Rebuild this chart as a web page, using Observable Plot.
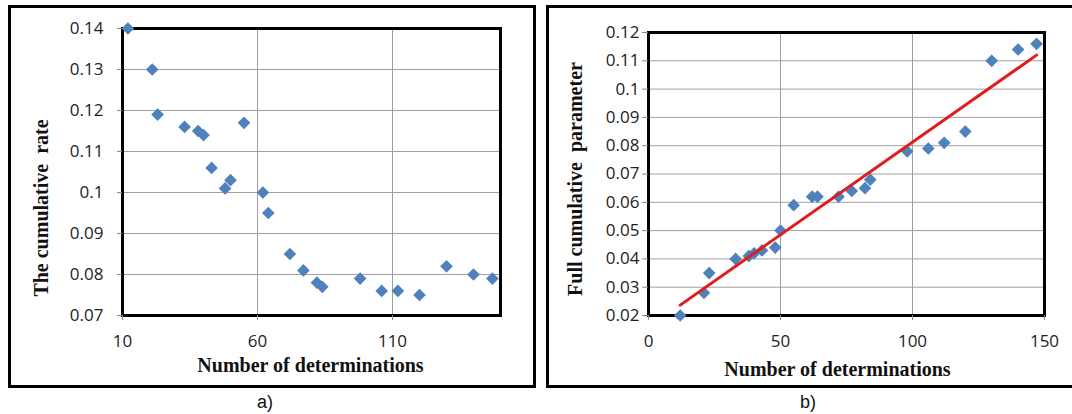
<!DOCTYPE html>
<html>
<head>
<meta charset="utf-8">
<script src="https://cdn.jsdelivr.net/npm/d3@7"></script>
<script src="https://cdn.jsdelivr.net/npm/@observablehq/plot@0.6"></script>
<style>
  html, body { margin: 0; padding: 0; background: #fff; }
  #page { position: relative; width: 1072px; height: 414px; overflow: hidden; background: #fff; }
  .box { position: absolute; box-sizing: border-box; border: 3px solid #000; }
  .plotwrap { position: absolute; top: 0; }
  .cap { position: absolute; font-family: "Liberation Sans", Arial, sans-serif; font-size: 18px; color: #111; transform: translate(-50%, -50%); }
</style>
</head>
<body>
<div id="page">
  <div class="box" style="left:8px; top:5px; width:528px; height:383px;"></div>
  <div class="box" style="left:546px; top:5px; width:540px; height:383px;"></div>
  <div class="plotwrap" id="pa" style="left:0px;"></div>
  <div class="plotwrap" id="pb" style="left:540px;"></div>
  <div class="cap" style="left:265px; top:402px;">a)</div>
  <div class="cap" style="left:808px; top:402px;">b)</div>
</div>
<script>
// Number of determinations (shared by both panels)
const determinations = [12, 21, 23, 33, 38, 40, 43, 48, 50, 55, 62, 64, 72, 77, 82, 84, 98, 106, 112, 120, 130, 140, 147];
// Panel a: the cumulative rate
const cumulativeRate = [0.140, 0.130, 0.119, 0.116, 0.115, 0.114, 0.106, 0.101, 0.103, 0.117, 0.100, 0.095, 0.085, 0.081, 0.078, 0.077, 0.079, 0.076, 0.076, 0.075, 0.082, 0.080, 0.079];
// Panel b: full cumulative parameter
const fullParameter = [0.020, 0.028, 0.035, 0.040, 0.041, 0.042, 0.043, 0.044, 0.050, 0.059, 0.062, 0.062, 0.062, 0.064, 0.065, 0.068, 0.078, 0.079, 0.081, 0.085, 0.110, 0.114, 0.116];

// Tick labels
const xTicksA = [10, 60, 110];
const yTicksA = [0.07, 0.08, 0.09, 0.10, 0.11, 0.12, 0.13, 0.14];
const xTicksB = [0, 50, 100, 150];
const yTicksB = [0.02, 0.03, 0.04, 0.05, 0.06, 0.07, 0.08, 0.09, 0.10, 0.11, 0.12];

const dataA = determinations.map((x, i) => ({x, y: cumulativeRate[i]}));
const dataB = determinations.map((x, i) => ({x, y: fullParameter[i]}));

const fmt = d => String(+d.toFixed(2));
const tickFont = {fontFamily: "'Open Sans', sans-serif", fontSize: "17px", color: "#222", background: "transparent", overflow: "visible"};
const titleFont = {fontFamily: "'Liberation Serif', 'Times New Roman', serif", fontSize: 20, fontWeight: "bold", fill: "#111"};
const gridStyle = {stroke: "#a0a0a0", strokeOpacity: 1, strokeWidth: 1};
const diamond = {symbol: "diamond2", r: 5.7, fill: "#4f81bd", stroke: "none"};

const plotA = Plot.plot({
  width: 540, height: 414,
  marginLeft: 122, marginRight: 40, marginTop: 28, marginBottom: 99,
  style: tickFont,
  x: {domain: [10, 150]},
  y: {domain: [0.07, 0.14]},
  marks: [
    Plot.gridX(xTicksA, gridStyle),
    Plot.gridY(yTicksA, gridStyle),
    Plot.frame({stroke: "#000", strokeWidth: 3}),
    Plot.axisX(xTicksA, {tickSize: 5, tickPadding: 14, stroke: "#888", label: null, tickFormat: d => String(d)}),
    Plot.axisY(yTicksA, {tickSize: 5, tickPadding: 14, stroke: "#888", label: null, tickFormat: fmt}),
    Plot.dot(dataA, {x: "x", y: "y", ...diamond}),
    Plot.text(["Number of determinations"], {frameAnchor: "bottom", dx: -1, dy: 50, lineAnchor: "middle", ...titleFont}),
    Plot.text(["The cumulative  rate"], {frameAnchor: "left", dx: -81, dy: 36, rotate: -90, lineAnchor: "middle", textAnchor: "middle", ...titleFont})
  ]
});
document.getElementById("pa").appendChild(plotA);

const plotB = Plot.plot({
  width: 532, height: 414,
  marginLeft: 108, marginRight: 28, marginTop: 32, marginBottom: 99,
  style: tickFont,
  x: {domain: [0, 150]},
  y: {domain: [0.02, 0.12]},
  marks: [
    Plot.gridX(xTicksB, gridStyle),
    Plot.gridY(yTicksB, gridStyle),
    Plot.frame({stroke: "#000", strokeWidth: 3}),
    Plot.axisX(xTicksB, {tickSize: 5, tickPadding: 14, stroke: "#888", label: null, tickFormat: d => String(d)}),
    Plot.axisY(yTicksB, {tickSize: 6, tickPadding: 3, stroke: "#888", label: null, tickFormat: fmt}),
    Plot.dot(dataB, {x: "x", y: "y", ...diamond}),
    Plot.linearRegressionY(dataB, {x: "x", y: "y", stroke: "#e21b1b", strokeWidth: 3, ci: 0}),
    Plot.text(["Number of determinations"], {frameAnchor: "bottom", dx: -9, dy: 54, lineAnchor: "middle", ...titleFont}),
    Plot.text(["Full cumulative  parameter"], {frameAnchor: "left", dx: -73, dy: 5, rotate: -90, lineAnchor: "middle", textAnchor: "middle", ...titleFont})
  ]
});
document.getElementById("pb").appendChild(plotB);
</script>
</body>
</html>
